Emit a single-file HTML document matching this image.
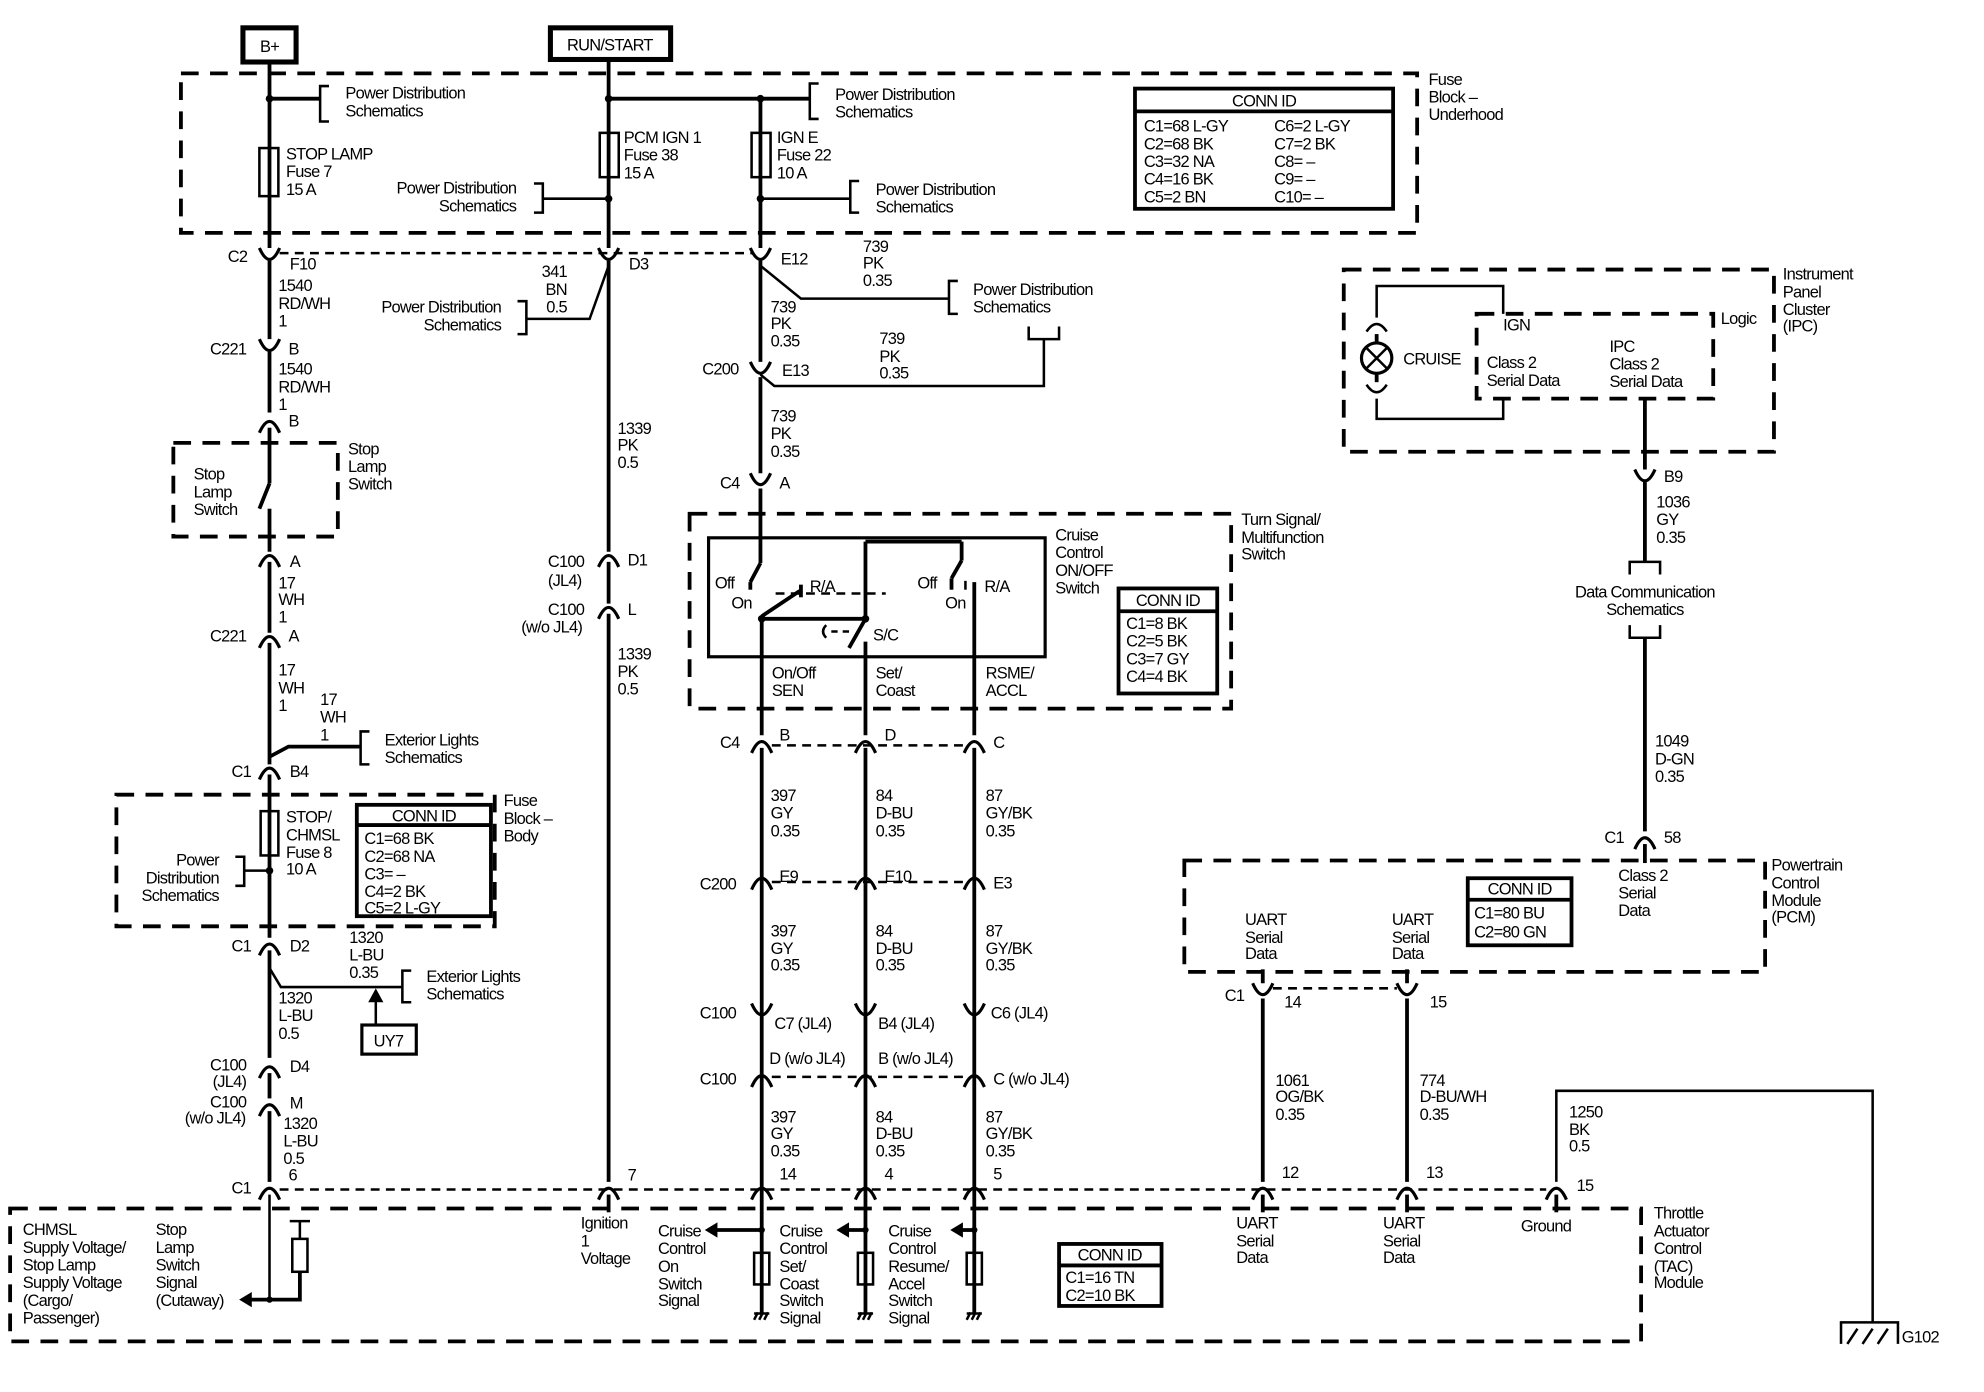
<!DOCTYPE html>
<html><head><meta charset="utf-8"><style>
html,body{margin:0;padding:0;background:#fff}
svg{display:block}
text{font-family:"Liberation Sans",Arial,sans-serif;font-size:13px;fill:#000;letter-spacing:-0.6px}
.w{stroke:#000;stroke-width:3;fill:none}
.t{stroke:#000;stroke-width:2;fill:none}
.d{stroke:#000;stroke-width:3;fill:none;stroke-dasharray:14,9}
.s{stroke:#000;stroke-width:2;fill:none;stroke-dasharray:7,5}
.e{text-anchor:end}
.m{text-anchor:middle}
</style></head><body>
<svg width="1984" height="1392" viewBox="0 0 1568 1100" preserveAspectRatio="none" xmlns="http://www.w3.org/2000/svg">
<defs>
<path id="cu" d="M-8,-6 Q0,12 8,-6" stroke="#000" stroke-width="2.5" fill="none"/>
<path id="dm" d="M-8,6 Q0,-12 8,6" stroke="#000" stroke-width="2.5" fill="none"/>
</defs>
<rect width="1568" height="1100" fill="#fff"/>

<rect x="192" y="22" width="42" height="27" fill="none" stroke="#000" stroke-width="4"/>
<text x="213" y="41" class="m">B+</text>
<rect x="435" y="22" width="95" height="25" fill="none" stroke="#000" stroke-width="4"/>
<text x="482" y="40" class="m">RUN/START</text>

<rect x="143" y="58" width="977" height="126" class="d"/>
<text x="1129" y="67">Fuse</text><text x="1129" y="81">Block –</text><text x="1129" y="95">Underhood</text>

<line x1="213" y1="50" x2="213" y2="196" class="w"/>
<circle cx="213" cy="78" r="3"/>
<line x1="213" y1="78" x2="253" y2="78" class="w"/>
<path d="M260,68 H253 V96 H260" class="t"/>
<text x="273" y="78">Power Distribution</text><text x="273" y="92">Schematics</text>
<rect x="205" y="117" width="15" height="38" fill="#fff" class="t"/><line x1="213" y1="117" x2="213" y2="155" class="t"/>
<text x="226" y="126">STOP LAMP</text><text x="226" y="140">Fuse 7</text><text x="226" y="154">15 A</text>

<line x1="481" y1="48" x2="481" y2="196" class="w"/>
<line x1="481" y1="78" x2="640" y2="78" class="w"/><circle cx="481" cy="78" r="3"/><circle cx="601" cy="78" r="3"/>
<path d="M647,66 H640 V94 H647" class="t"/>
<text x="660" y="79">Power Distribution</text><text x="660" y="93">Schematics</text>
<line x1="601" y1="78" x2="601" y2="196" class="w"/>
<rect x="474" y="105" width="15" height="35" fill="#fff" class="t"/><line x1="481" y1="105" x2="481" y2="140" class="t"/>
<text x="493" y="113">PCM IGN 1</text><text x="493" y="127">Fuse 38</text><text x="493" y="141">15 A</text>
<rect x="594" y="105" width="15" height="35" fill="#fff" class="t"/><line x1="601" y1="105" x2="601" y2="140" class="t"/>
<text x="614" y="113">IGN E</text><text x="614" y="127">Fuse 22</text><text x="614" y="141">10 A</text>
<path d="M422,145 H429 V168 H422" class="t"/><line x1="429" y1="157" x2="481" y2="157" class="t"/><circle cx="481" cy="157" r="3"/>
<text x="408" y="153" class="e">Power Distribution</text><text x="408" y="167" class="e">Schematics</text>
<circle cx="601" cy="157" r="3"/><line x1="601" y1="157" x2="672" y2="157" class="t"/>
<path d="M679,143 H672 V168 H679" class="t"/>
<text x="692" y="154">Power Distribution</text><text x="692" y="168">Schematics</text>

<rect x="897" y="70" width="204" height="95" fill="none" stroke="#000" stroke-width="3"/>
<line x1="897" y1="88" x2="1101" y2="88" stroke="#000" stroke-width="3"/>
<text x="999" y="84" class="m">CONN ID</text>
<text x="904" y="104">C1=68 L-GY</text><text x="1007" y="104">C6=2 L-GY</text>
<text x="904" y="118">C2=68 BK</text><text x="1007" y="118">C7=2 BK</text>
<text x="904" y="132">C3=32 NA</text><text x="1007" y="132">C8= –</text>
<text x="904" y="146">C4=16 BK</text><text x="1007" y="146">C9= –</text>
<text x="904" y="160">C5=2 BN</text><text x="1007" y="160">C10= –</text>

<line x1="221" y1="200" x2="595" y2="200" class="s"/>
<use href="#cu" x="213" y="202"/><use href="#cu" x="481" y="202"/><use href="#cu" x="601" y="202"/>
<text x="180" y="207">C2</text><text x="229" y="213">F10</text><text x="497" y="213">D3</text><text x="617" y="209">E12</text>

<line x1="213" y1="206" x2="213" y2="268" class="w"/>
<text x="220" y="230">1540</text><text x="220" y="244">RD/WH</text><text x="220" y="258">1</text>
<use href="#cu" x="213" y="274"/><text x="166" y="280">C221</text><text x="228" y="280">B</text>
<line x1="213" y1="278" x2="213" y2="326" class="w"/>
<text x="220" y="296">1540</text><text x="220" y="310">RD/WH</text><text x="220" y="324">1</text>
<use href="#dm" x="213" y="336"/><text x="228" y="337">B</text>
<line x1="213" y1="338" x2="213" y2="382" class="w"/>
<line x1="213" y1="382" x2="205" y2="402" class="w"/>
<line x1="213" y1="402" x2="213" y2="436" class="w"/>
<rect x="137" y="350" width="130" height="74" class="d"/>
<text x="153" y="379">Stop</text><text x="153" y="393">Lamp</text><text x="153" y="407">Switch</text>
<text x="275" y="359">Stop</text><text x="275" y="373">Lamp</text><text x="275" y="387">Switch</text>
<use href="#dm" x="213" y="442"/><text x="229" y="448">A</text>
<line x1="213" y1="444" x2="213" y2="500" class="w"/>
<text x="220" y="465">17</text><text x="220" y="478">WH</text><text x="220" y="492">1</text>
<use href="#dm" x="213" y="506"/><text x="166" y="507">C221</text><text x="228" y="507">A</text>
<line x1="213" y1="508" x2="213" y2="604" class="w"/>
<text x="220" y="534">17</text><text x="220" y="548">WH</text><text x="220" y="562">1</text>
<text x="253" y="557">17</text><text x="253" y="571">WH</text><text x="253" y="585">1</text>
<path d="M213,598 L228,590 H285" class="w"/>
<path d="M292,578 H285 V604 H292" class="t"/>
<text x="304" y="589">Exterior Lights</text><text x="304" y="603">Schematics</text>
<use href="#dm" x="213" y="610"/><text x="183" y="614">C1</text><text x="229" y="614">B4</text>
<rect x="92" y="628" width="299" height="104" class="d"/>
<text x="398" y="637">Fuse</text><text x="398" y="651">Block –</text><text x="398" y="665">Body</text>
<line x1="213" y1="612" x2="213" y2="741" class="w"/>
<rect x="206" y="641" width="14" height="35" fill="#fff" class="t"/><line x1="213" y1="641" x2="213" y2="676" class="t"/>
<text x="226" y="650">STOP/</text><text x="226" y="664">CHMSL</text><text x="226" y="678">Fuse 8</text><text x="226" y="691">10 A</text>
<rect x="282" y="636" width="106" height="88" fill="none" stroke="#000" stroke-width="3"/>
<line x1="282" y1="652" x2="388" y2="652" stroke="#000" stroke-width="3"/>
<text x="335" y="649" class="m">CONN ID</text>
<text x="288" y="667">C1=68 BK</text><text x="288" y="681">C2=68 NA</text><text x="288" y="695">C3= –</text><text x="288" y="709">C4=2 BK</text><text x="288" y="722">C5=2 L-GY</text>
<text x="173" y="684" class="e">Power</text><text x="173" y="698" class="e">Distribution</text><text x="173" y="712" class="e">Schematics</text>
<path d="M186,677 H193 V700 H186" class="t"/><line x1="193" y1="688" x2="213" y2="688" class="t"/><circle cx="213" cy="688" r="3"/>
<use href="#dm" x="213" y="749"/><text x="183" y="752">C1</text><text x="229" y="752">D2</text>
<line x1="213" y1="751" x2="213" y2="836" class="w"/>
<path d="M213,765 L222,780 H318" class="t"/>
<path d="M325,767 H318 V792 H325" class="t"/>
<text x="337" y="776">Exterior Lights</text><text x="337" y="790">Schematics</text>
<text x="276" y="745">1320</text><text x="276" y="759">L-BU</text><text x="276" y="773">0.35</text>
<line x1="297" y1="810" x2="297" y2="788" class="t"/><path d="M291,792 L297,781 L303,792 Z"/>
<rect x="286" y="810" width="43" height="23" fill="none" stroke="#000" stroke-width="2.5"/><text x="307" y="827" class="m">UY7</text>
<text x="220" y="793">1320</text><text x="220" y="807">L-BU</text><text x="220" y="821">0.5</text>
<use href="#dm" x="213" y="846"/><text x="166" y="846">C100</text><text x="168" y="859">(JL4)</text><text x="229" y="847">D4</text>
<line x1="213" y1="848" x2="213" y2="868" class="w"/>
<use href="#dm" x="213" y="876"/><text x="166" y="875">C100</text><text x="146" y="888">(w/o JL4)</text><text x="229" y="876">M</text>
<line x1="213" y1="878" x2="213" y2="934" class="w"/>
<text x="224" y="892">1320</text><text x="224" y="906">L-BU</text><text x="224" y="920">0.5</text>
<use href="#dm" x="213" y="942"/><text x="183" y="943">C1</text><text x="228" y="933">6</text>

<line x1="221" y1="940" x2="1222" y2="940" class="s"/>

<line x1="481" y1="206" x2="481" y2="436" class="w"/>
<path d="M481,210 L466,252 H416" class="t"/>
<path d="M409,238 H416 V264 H409" class="t"/>
<text x="396" y="247" class="e">Power Distribution</text><text x="396" y="261" class="e">Schematics</text>
<text x="448" y="219" class="e">341</text><text x="448" y="233" class="e">BN</text><text x="448" y="247" class="e">0.5</text>
<text x="488" y="343">1339</text><text x="488" y="356">PK</text><text x="488" y="370">0.5</text>
<use href="#dm" x="481" y="442"/><text x="433" y="448">C100</text><text x="433" y="463">(JL4)</text><text x="496" y="447">D1</text>
<line x1="481" y1="444" x2="481" y2="477" class="w"/>
<use href="#dm" x="481" y="483"/><text x="433" y="486">C100</text><text x="412" y="500">(w/o JL4)</text><text x="496" y="486">L</text>
<line x1="481" y1="485" x2="481" y2="934" class="w"/>
<text x="488" y="521">1339</text><text x="488" y="535">PK</text><text x="488" y="549">0.5</text>
<use href="#dm" x="481" y="942"/><text x="496" y="933">7</text>
<line x1="481" y1="944" x2="481" y2="958" class="w"/>

<line x1="601" y1="206" x2="601" y2="286" class="w"/>
<path d="M601,210 L633,236 H750" class="t"/>
<path d="M757,222 H750 V248 H757" class="t"/>
<text x="769" y="233">Power Distribution</text><text x="769" y="247">Schematics</text>
<text x="682" y="199">739</text><text x="682" y="212">PK</text><text x="682" y="226">0.35</text>
<text x="609" y="247">739</text><text x="609" y="260">PK</text><text x="609" y="274">0.35</text>
<use href="#cu" x="601" y="292"/><text x="555" y="296">C200</text><text x="618" y="297">E13</text>
<path d="M601,296 L612,305 H825 V268" class="t"/>
<path d="M813,258 V268 H837 V258" class="t"/>
<text x="695" y="272">739</text><text x="695" y="286">PK</text><text x="695" y="299">0.35</text>
<line x1="601" y1="298" x2="601" y2="374" class="w"/>
<text x="609" y="333">739</text><text x="609" y="347">PK</text><text x="609" y="361">0.35</text>
<use href="#cu" x="601" y="380"/><text x="569" y="386">C4</text><text x="616" y="386">A</text>

<rect x="545" y="406" width="428" height="154" class="d"/>
<text x="981" y="415">Turn Signal/</text><text x="981" y="429">Multifunction</text><text x="981" y="442">Switch</text>
<rect x="560" y="425" width="266" height="94" fill="none" stroke="#000" stroke-width="2.5"/>
<text x="834" y="427">Cruise</text><text x="834" y="441">Control</text><text x="834" y="455">ON/OFF</text><text x="834" y="469">Switch</text>
<rect x="884" y="465" width="78" height="83" fill="none" stroke="#000" stroke-width="3"/>
<line x1="884" y1="483" x2="962" y2="483" stroke="#000" stroke-width="3"/>
<text x="923" y="479" class="m">CONN ID</text>
<text x="890" y="497">C1=8 BK</text><text x="890" y="511">C2=5 BK</text><text x="890" y="525">C3=7 GY</text><text x="890" y="539">C4=4 BK</text>
<line x1="601" y1="386" x2="601" y2="445" class="w"/>
<line x1="601" y1="445" x2="593" y2="460" class="w"/>
<line x1="593" y1="460" x2="593" y2="466" class="w"/>
<line x1="613" y1="469" x2="700" y2="469" class="s"/>
<text x="565" y="465">Off</text><text x="578" y="481">On</text>
<path d="M602,487 Q620,475 632,467" class="w"/><line x1="633" y1="462" x2="633" y2="472" class="w"/>
<text x="640" y="468">R/A</text>
<circle cx="602" cy="489" r="3"/>
<line x1="602" y1="489" x2="684" y2="489" class="w"/><circle cx="684" cy="489" r="3"/>
<line x1="684" y1="428" x2="684" y2="489" class="w"/>
<line x1="684" y1="428" x2="760" y2="428" class="w"/>
<line x1="760" y1="428" x2="760" y2="443" class="w"/>
<line x1="760" y1="443" x2="752" y2="457" class="w"/><line x1="752" y1="457" x2="752" y2="466" class="w"/>
<line x1="763" y1="459" x2="763" y2="466" class="t"/>
<text x="725" y="465">Off</text><text x="747" y="481">On</text><text x="778" y="468">R/A</text>
<line x1="684" y1="489" x2="671" y2="512" class="w"/>
<path d="M653,494 Q648,499 653,504" class="t"/><line x1="657" y1="499" x2="672" y2="499" class="t" stroke-dasharray="5,4"/>
<text x="690" y="506">S/C</text>
<line x1="602" y1="489" x2="602" y2="581" class="w"/>
<line x1="684" y1="507" x2="684" y2="581" class="w"/>
<line x1="770" y1="460" x2="770" y2="581" class="w"/>
<text x="610" y="536">On/Off</text><text x="610" y="550">SEN</text>
<text x="692" y="536">Set/</text><text x="692" y="550">Coast</text>
<text x="779" y="536">RSME/</text><text x="779" y="550">ACCL</text>

<line x1="610" y1="589" x2="762" y2="589" class="s"/>
<use href="#dm" x="602" y="589"/><use href="#dm" x="684" y="589"/><use href="#dm" x="770" y="589"/>
<text x="569" y="591">C4</text><text x="616" y="585">B</text><text x="699" y="585">D</text><text x="785" y="591">C</text>
<line x1="602" y1="591" x2="602" y2="1038" class="w"/>
<line x1="684" y1="591" x2="684" y2="1038" class="w"/>
<line x1="770" y1="591" x2="770" y2="1038" class="w"/>
<text x="609" y="633">397</text><text x="609" y="647">GY</text><text x="609" y="661">0.35</text>
<text x="692" y="633">84</text><text x="692" y="647">D-BU</text><text x="692" y="661">0.35</text>
<text x="779" y="633">87</text><text x="779" y="647">GY/BK</text><text x="779" y="661">0.35</text>
<line x1="610" y1="697" x2="762" y2="697" class="s"/>
<use href="#dm" x="602" y="697"/><use href="#dm" x="684" y="697"/><use href="#dm" x="770" y="697"/>
<text x="553" y="703">C200</text><text x="616" y="697">E9</text><text x="699" y="697">E10</text><text x="785" y="702">E3</text>
<text x="609" y="740">397</text><text x="609" y="754">GY</text><text x="609" y="767">0.35</text>
<text x="692" y="740">84</text><text x="692" y="754">D-BU</text><text x="692" y="767">0.35</text>
<text x="779" y="740">87</text><text x="779" y="754">GY/BK</text><text x="779" y="767">0.35</text>
<use href="#cu" x="602" y="799"/><use href="#cu" x="684" y="799"/><use href="#cu" x="770" y="799"/>
<text x="553" y="805">C100</text><text x="612" y="813">C7 (JL4)</text><text x="694" y="813">B4 (JL4)</text><text x="783" y="805">C6 (JL4)</text>
<line x1="610" y1="851" x2="762" y2="851" class="s"/>
<use href="#dm" x="602" y="853"/><use href="#dm" x="684" y="853"/><use href="#dm" x="770" y="853"/>
<text x="553" y="857">C100</text><text x="608" y="841">D (w/o JL4)</text><text x="694" y="841">B (w/o JL4)</text><text x="785" y="857">C (w/o JL4)</text>
<text x="609" y="887">397</text><text x="609" y="900">GY</text><text x="609" y="914">0.35</text>
<text x="692" y="887">84</text><text x="692" y="900">D-BU</text><text x="692" y="914">0.35</text>
<text x="779" y="887">87</text><text x="779" y="900">GY/BK</text><text x="779" y="914">0.35</text>
<use href="#dm" x="602" y="942"/><use href="#dm" x="684" y="942"/><use href="#dm" x="770" y="942"/>
<text x="616" y="932">14</text><text x="699" y="932">4</text><text x="785" y="932">5</text>

<rect x="8" y="955" width="1289" height="105" class="d"/>
<text x="18" y="976">CHMSL</text><text x="18" y="990">Supply Voltage/</text><text x="18" y="1004">Stop Lamp</text><text x="18" y="1018">Supply Voltage</text><text x="18" y="1032">(Cargo/</text><text x="18" y="1046">Passenger)</text>
<text x="123" y="976">Stop</text><text x="123" y="990">Lamp</text><text x="123" y="1004">Switch</text><text x="123" y="1018">Signal</text><text x="123" y="1032">(Cutaway)</text>
<line x1="213" y1="944" x2="213" y2="1027" class="t"/>
<path d="M213,1027 H237 V1005" class="w"/>
<rect x="231" y="979" width="12" height="26" fill="#fff" class="t"/>
<line x1="237" y1="979" x2="237" y2="965" class="t"/><line x1="229" y1="965" x2="245" y2="965" class="t"/>
<line x1="213" y1="1027" x2="198" y2="1027" class="w"/><path d="M199,1021 L189,1027 L199,1033 Z"/>
<circle cx="213" cy="1027" r="2.5"/>
<text x="459" y="971">Ignition</text><text x="459" y="985">1</text><text x="459" y="999">Voltage</text>
<text x="520" y="977">Cruise</text><text x="520" y="991">Control</text><text x="520" y="1005">On</text><text x="520" y="1019">Switch</text><text x="520" y="1032">Signal</text>
<text x="616" y="977">Cruise</text><text x="616" y="991">Control</text><text x="616" y="1005">Set/</text><text x="616" y="1019">Coast</text><text x="616" y="1032">Switch</text><text x="616" y="1046">Signal</text>
<text x="702" y="977">Cruise</text><text x="702" y="991">Control</text><text x="702" y="1005">Resume/</text><text x="702" y="1019">Accel</text><text x="702" y="1032">Switch</text><text x="702" y="1046">Signal</text>
<line x1="602" y1="972" x2="566" y2="972" class="w"/><path d="M567,966 L557,972 L567,978 Z"/><circle cx="602" cy="972" r="2.5"/>
<rect x="596" y="990" width="12" height="25" fill="#fff" class="t"/>
<path d="M596,1043 L599,1037 M600,1043 L603,1037 M604,1043 L607,1037 M596,1038 H608" class="t" stroke-width="1.5"/>
<line x1="684" y1="972" x2="670" y2="972" class="w"/><path d="M671,966 L661,972 L671,978 Z"/><circle cx="684" cy="972" r="2.5"/>
<rect x="678" y="990" width="12" height="25" fill="#fff" class="t"/>
<path d="M678,1043 L681,1037 M682,1043 L685,1037 M686,1043 L689,1037 M678,1038 H690" class="t" stroke-width="1.5"/>
<line x1="770" y1="972" x2="760" y2="972" class="w"/><path d="M761,966 L751,972 L761,978 Z"/><circle cx="770" cy="972" r="2.5"/>
<rect x="764" y="990" width="12" height="25" fill="#fff" class="t"/>
<path d="M764,1043 L767,1037 M768,1043 L771,1037 M772,1043 L775,1037 M764,1038 H776" class="t" stroke-width="1.5"/>
<rect x="837" y="983" width="81" height="49" fill="none" stroke="#000" stroke-width="3"/>
<line x1="837" y1="1000" x2="918" y2="1000" stroke="#000" stroke-width="3"/>
<text x="877" y="996" class="m">CONN ID</text>
<text x="842" y="1014">C1=16 TN</text><text x="842" y="1028">C2=10 BK</text>
<text x="977" y="971">UART</text><text x="977" y="985">Serial</text><text x="977" y="998">Data</text>
<text x="1093" y="971">UART</text><text x="1093" y="985">Serial</text><text x="1093" y="998">Data</text>
<text x="1202" y="973">Ground</text>
<text x="1307" y="963">Throttle</text><text x="1307" y="977">Actuator</text><text x="1307" y="991">Control</text><text x="1307" y="1005">(TAC)</text><text x="1307" y="1018">Module</text>

<rect x="1062" y="213" width="340" height="144" class="d"/>
<text x="1409" y="221">Instrument</text><text x="1409" y="235">Panel</text><text x="1409" y="249">Cluster</text><text x="1409" y="262">(IPC)</text>
<rect x="1167" y="248" width="187" height="67" class="d"/>
<text x="1360" y="256">Logic</text><text x="1188" y="261">IGN</text>
<text x="1175" y="291">Class 2</text><text x="1175" y="305">Serial Data</text>
<text x="1272" y="278">IPC</text><text x="1272" y="292">Class 2</text><text x="1272" y="306">Serial Data</text>
<circle cx="1088" cy="283" r="12" fill="none" stroke="#000" stroke-width="2.5"/>
<path d="M1080,275 L1096,291 M1096,275 L1080,291" class="t"/>
<line x1="1088" y1="264" x2="1088" y2="271" class="w"/><line x1="1088" y1="295" x2="1088" y2="302" class="w"/>
<path d="M1080,262 Q1088,250 1096,262" class="t"/><path d="M1080,304 Q1088,316 1096,304" class="t"/>
<path d="M1088,251 V226 H1188 V248" class="t"/>
<path d="M1088,315 V331 H1188 V315" class="t"/>
<text x="1109" y="288">CRUISE</text>
<line x1="1300" y1="315" x2="1300" y2="371" class="w"/>
<use href="#cu" x="1300" y="377"/><text x="1315" y="381">B9</text>
<line x1="1300" y1="381" x2="1300" y2="444" class="w"/>
<text x="1309" y="401">1036</text><text x="1309" y="415">GY</text><text x="1309" y="429">0.35</text>
<path d="M1288,454 V444 H1312 V454" class="t"/>
<text x="1300" y="472" class="m">Data Communication</text><text x="1300" y="486" class="m">Schematics</text>
<path d="M1288,494 V504 H1312 V494" class="t"/>
<line x1="1300" y1="504" x2="1300" y2="657" class="w"/>
<text x="1308" y="590">1049</text><text x="1308" y="604">D-GN</text><text x="1308" y="618">0.35</text>
<use href="#dm" x="1300" y="665"/><text x="1268" y="666">C1</text><text x="1315" y="666">58</text>
<line x1="1300" y1="667" x2="1300" y2="682" class="w"/>

<rect x="936" y="680" width="459" height="88" class="d"/>
<text x="1400" y="688">Powertrain</text><text x="1400" y="702">Control</text><text x="1400" y="716">Module</text><text x="1400" y="729">(PCM)</text>
<text x="1279" y="696">Class 2</text><text x="1279" y="710">Serial</text><text x="1279" y="724">Data</text>
<rect x="1160" y="694" width="82" height="53" fill="none" stroke="#000" stroke-width="3"/>
<line x1="1160" y1="711" x2="1242" y2="711" stroke="#000" stroke-width="3"/>
<text x="1201" y="707" class="m">CONN ID</text>
<text x="1165" y="726">C1=80 BU</text><text x="1165" y="741">C2=80 GN</text>
<text x="984" y="731">UART</text><text x="984" y="745">Serial</text><text x="984" y="758">Data</text>
<text x="1100" y="731">UART</text><text x="1100" y="745">Serial</text><text x="1100" y="758">Data</text>
<line x1="998" y1="766" x2="998" y2="777" class="w"/><line x1="1112" y1="766" x2="1112" y2="777" class="w"/>
<line x1="1006" y1="781" x2="1104" y2="781" class="s"/>
<use href="#cu" x="998" y="783"/><use href="#cu" x="1112" y="783"/>
<text x="968" y="791">C1</text><text x="1015" y="796">14</text><text x="1130" y="796">15</text>
<line x1="998" y1="789" x2="998" y2="934" class="w"/><line x1="1112" y1="789" x2="1112" y2="934" class="w"/>
<text x="1008" y="858">1061</text><text x="1008" y="871">OG/BK</text><text x="1008" y="885">0.35</text>
<text x="1122" y="858">774</text><text x="1122" y="871">D-BU/WH</text><text x="1122" y="885">0.35</text>
<use href="#dm" x="998" y="942"/><use href="#dm" x="1112" y="942"/><use href="#dm" x="1230" y="942"/>
<text x="1013" y="931">12</text><text x="1127" y="931">13</text><text x="1246" y="941">15</text>
<line x1="998" y1="944" x2="998" y2="958" class="w"/><line x1="1112" y1="944" x2="1112" y2="958" class="w"/><line x1="1230" y1="944" x2="1230" y2="958" class="w"/>
<path d="M1230,934 V862 H1480 V1045" class="t"/>
<text x="1240" y="883">1250</text><text x="1240" y="897">BK</text><text x="1240" y="910">0.5</text>
<path d="M1455,1062 V1045 H1500 V1062" class="t"/>
<path d="M1460,1062 L1468,1050 M1472,1062 L1480,1050 M1484,1062 L1492,1050" class="t"/>
<text x="1503" y="1061">G102</text>
</svg>
</body></html>
